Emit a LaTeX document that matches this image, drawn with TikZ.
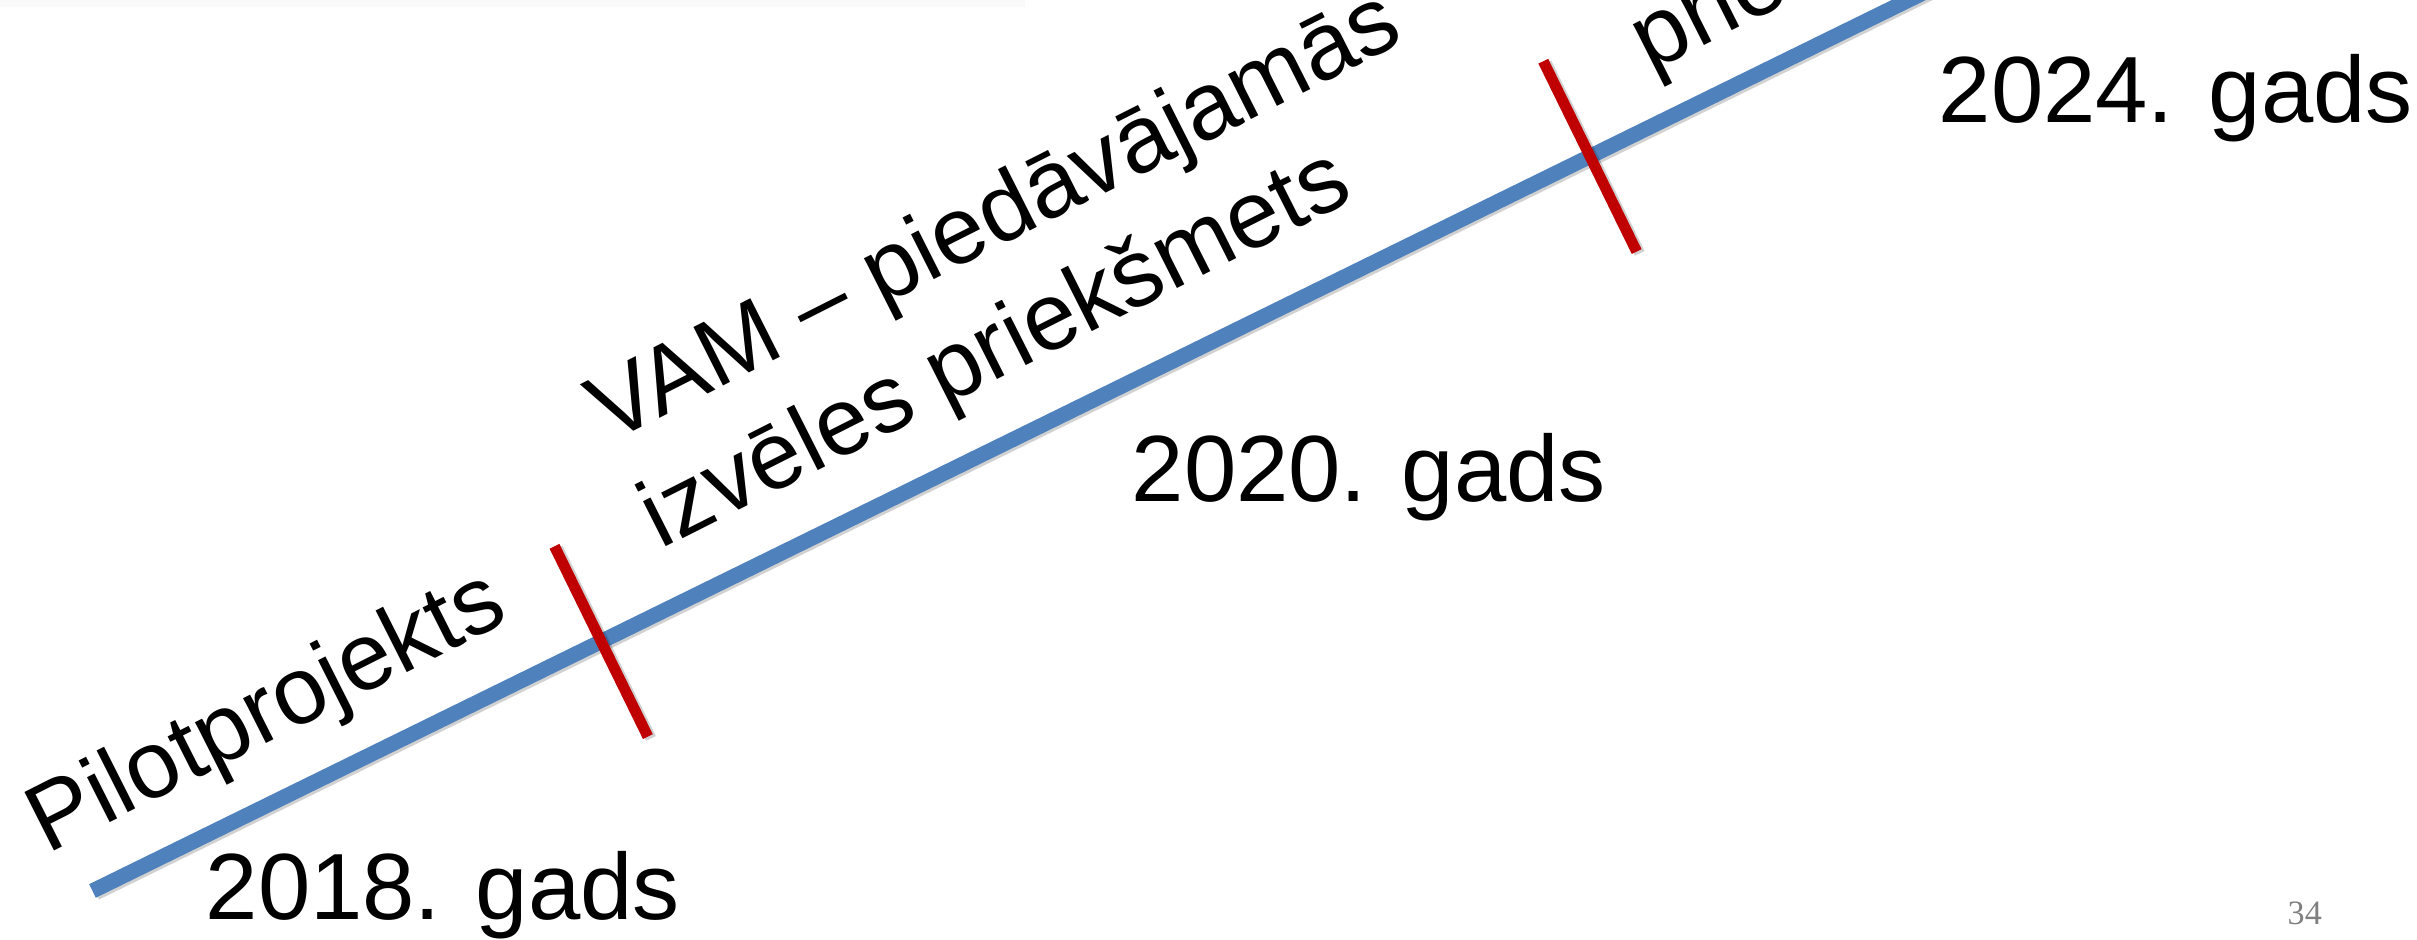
\documentclass[tikz,border=0pt]{standalone}
\usepackage{fontspec}
\setmainfont{Liberation Sans}
\newfontfamily\pagefont{Liberation Serif}
\definecolor{lineblue}{HTML}{4F81BD}
\definecolor{tickred}{HTML}{C00000}

\begin{document}
\begin{tikzpicture}[x=0.01cm,y=0.01cm,
        yearlabel/.style={inner sep=0pt,anchor=base west,font=\fontsize{26.75pt}{33pt}\selectfont},
        phaselabel/.style={yearlabel,font=\fontsize{27.1pt}{33pt}\selectfont,rotate=26.8},
        timeline/.style={line width=4.3pt,color=lineblue},
        tickline/.style={line width=3.1pt,color=tickred},
        dropshadow/.style={color=black,opacity=0.18,shift={(2,-3)}}]
        \useasboundingbox (0,0) rectangle (2417,940);
        \clip (0,0) rectangle (2417,940);
        \fill[black!2] (0,933) rectangle (1025,940);
        \node[yearlabel] (y2018) at (205,20) {2018. gads};
        \node[yearlabel] (y2020) at (1131,438) {2020. gads};
        \node[yearlabel] (y2024) at (1938,817) {2024. gads};
        \node[inner sep=0pt,anchor=base west,text=black!50,font=\pagefont\fontsize{9.7pt}{12pt}\selectfont] (page) at (2287,15) {34};
        \begin{scope}[shift={(92.5,49)},rotate=26.13]
            \draw[timeline,dropshadow,line width=4.3pt] (0,0) -- (2100,0);
            \draw[timeline] (0,0) -- (2100,0);
            \foreach \S in {566.6,1668}
                {\draw[tickline,dropshadow,line width=3.1pt] (\S,-106) -- (\S,106);
                 \draw[tickline] (\S,-106) -- (\S,106);
                }
            \node[phaselabel] (pilot) at (-25,53) {Pilotprojekts};
            \node[phaselabel] (vam) at (660,174) {VAM – piedāvājamās};
            \node[phaselabel] (izveles) at (660,56) {izvēles priekšmets};
            \node[phaselabel] (prie) at (1759,49) {priekšmets};
        \end{scope}
    \end{tikzpicture}
\end{document}
